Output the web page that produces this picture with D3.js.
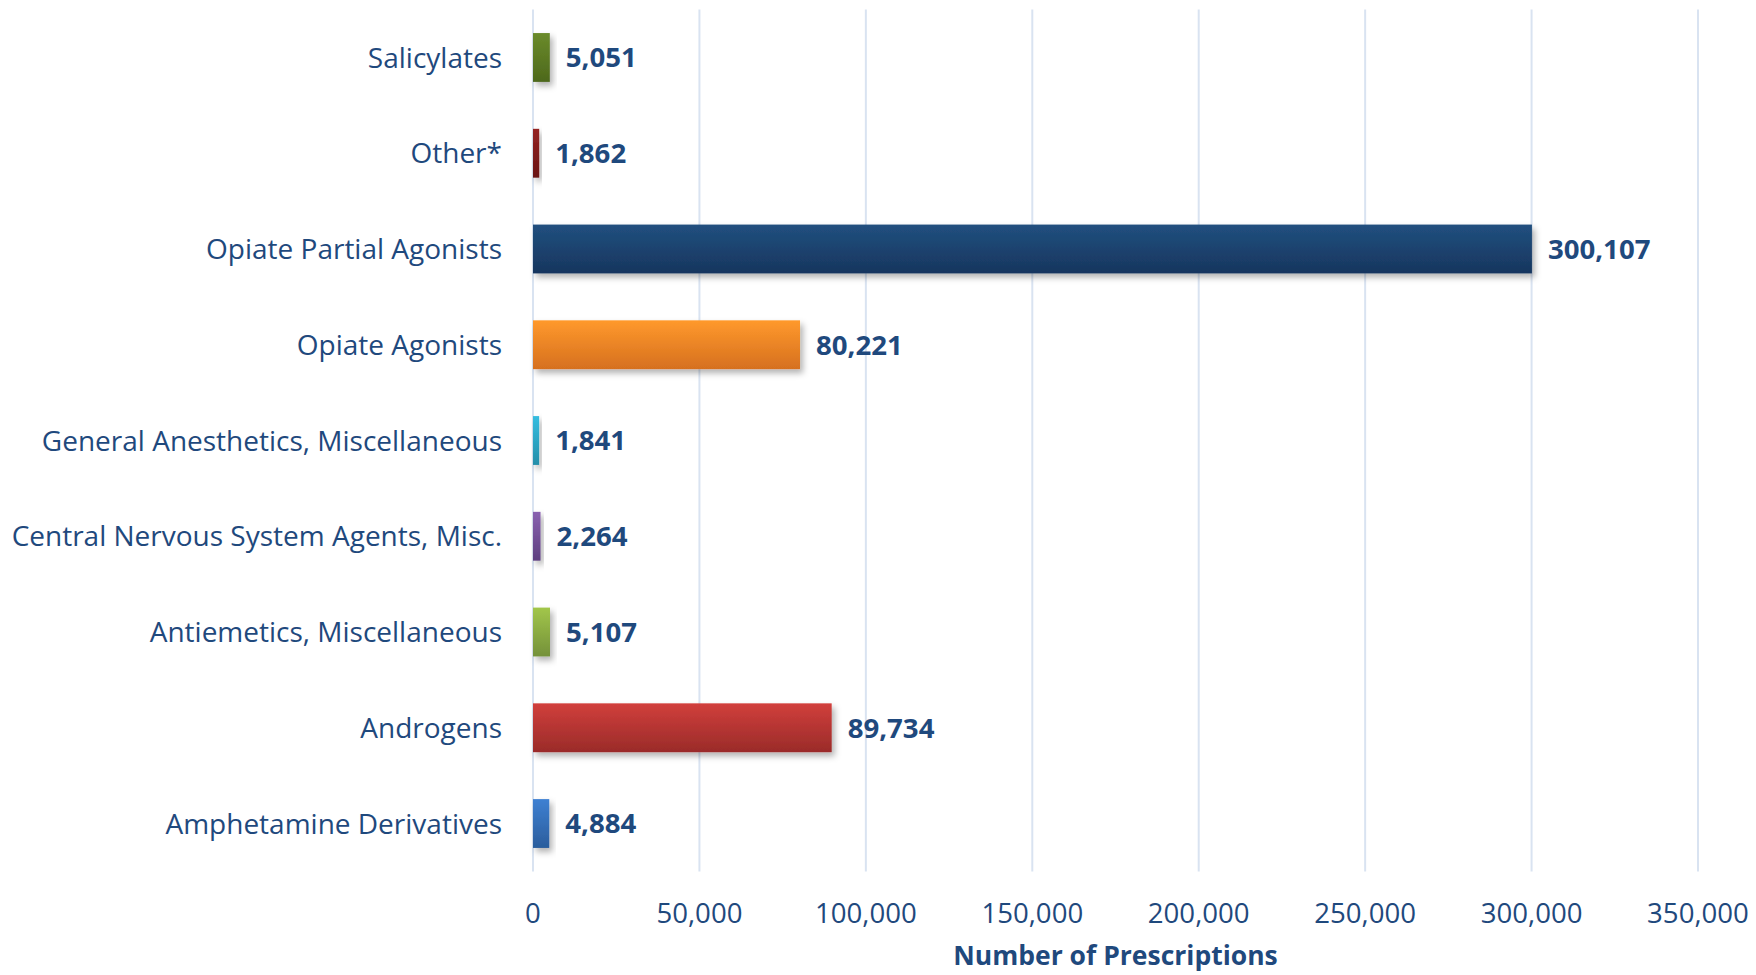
<!DOCTYPE html>
<html>
<head>
<meta charset="utf-8">
<script src="https://cdn.jsdelivr.net/npm/d3@7"></script>
<style>
  html, body { margin: 0; padding: 0; background: #fff; }
  svg { display: block; }
</style>
</head>
<body>
<svg id="chart" width="1756" height="975"></svg>
<script>
// categories, top to bottom as drawn
const categories = [
  "Salicylates",
  "Other*",
  "Opiate Partial Agonists",
  "Opiate Agonists",
  "General Anesthetics, Miscellaneous",
  "Central Nervous System Agents, Misc.",
  "Antiemetics, Miscellaneous",
  "Androgens",
  "Amphetamine Derivatives"
];
const prescriptions = [5051, 1862, 300107, 80221, 1841, 2264, 5107, 89734, 4884];
const xTicks = [0, 50000, 100000, 150000, 200000, 250000, 300000, 350000];
const xTitle = "Number of Prescriptions";

// bar gradient colours (top, bottom) — one per category
const barColors = [
  ["#6b8b2b", "#4d681c"],
  ["#952424", "#6a1414"],
  ["#21507f", "#17355e"],
  ["#ff992c", "#d6701f"],
  ["#35bde0", "#248ea9"],
  ["#8a62b0", "#5d3f7f"],
  ["#a2c64a", "#74913a"],
  ["#d13f3c", "#9a2b29"],
  ["#3e80d2", "#2b5d9c"]
];

const ink = "#1f497d";
const font = "'Open Sans', 'Noto Sans', sans-serif";

const svg = d3.select("#chart");
const margin = { left: 533, right: 58, top: 9.6, bottom: 103.6 };
const W = 1756, H = 975;

const x = d3.scaleLinear().domain([0, 350000]).range([margin.left, W - margin.right]);
const y = d3.scaleBand().domain(categories)
  .range([margin.top, H - margin.bottom])
  .paddingInner(0.49).paddingOuter(0.245);

const defs = svg.append("defs");
const shadow = defs.append("filter").attr("id", "shadow")
  .attr("x", "-20%").attr("y", "-20%").attr("width", "160%").attr("height", "160%");
shadow.append("feDropShadow").attr("dx", 3).attr("dy", 4)
  .attr("stdDeviation", 3).attr("flood-color", "#000").attr("flood-opacity", 0.3);

barColors.forEach((c, i) => {
  const g = defs.append("linearGradient").attr("id", "grad" + i)
    .attr("x1", 0).attr("y1", 0).attr("x2", 0).attr("y2", 1);
  g.append("stop").attr("offset", "0%").attr("stop-color", c[0]);
  g.append("stop").attr("offset", "100%").attr("stop-color", c[1]);
});

// vertical gridlines
svg.append("g").selectAll("line").data(xTicks).join("line")
  .attr("x1", d => x(d)).attr("x2", d => x(d))
  .attr("y1", margin.top).attr("y2", H - margin.bottom)
  .attr("stroke", "#d9e3f1").attr("stroke-width", 2);

// bars
svg.append("g").selectAll("rect").data(categories).join("rect")
  .attr("x", x(0))
  .attr("y", d => y(d))
  .attr("width", (d, i) => x(prescriptions[i]) - x(0))
  .attr("height", y.bandwidth())
  .attr("fill", (d, i) => `url(#grad${i})`)
  .attr("filter", "url(#shadow)");

// value labels
svg.append("g").selectAll("text").data(categories).join("text")
  .attr("x", (d, i) => x(prescriptions[i]) + 16)
  .attr("y", d => y(d) + y.bandwidth() / 2)
  .attr("dy", "0.36em")
  .attr("font-family", font).attr("font-size", 27.6).attr("font-weight", 700)
  .attr("fill", ink)
  .text((d, i) => d3.format(",")(prescriptions[i]));

// category labels
svg.append("g").selectAll("text").data(categories).join("text")
  .attr("x", margin.left - 31)
  .attr("y", d => y(d) + y.bandwidth() / 2)
  .attr("dy", "0.36em")
  .attr("text-anchor", "end")
  .attr("font-family", font).attr("font-size", 28)
  .attr("fill", ink)
  .text(d => d);

// x tick labels
svg.append("g").selectAll("text").data(xTicks).join("text")
  .attr("x", d => x(d))
  .attr("y", 913)
  .attr("dy", "0.36em")
  .attr("text-anchor", "middle")
  .attr("font-family", font).attr("font-size", 27.6)
  .attr("fill", ink)
  .text(d => d3.format(",")(d));

// x axis title
svg.append("text")
  .attr("x", (x.range()[0] + x.range()[1]) / 2)
  .attr("y", 955)
  .attr("dy", "0.36em")
  .attr("text-anchor", "middle")
  .attr("font-family", font).attr("font-size", 26.5).attr("font-weight", 700)
  .attr("fill", ink)
  .text(xTitle);
</script>
</body>
</html>
